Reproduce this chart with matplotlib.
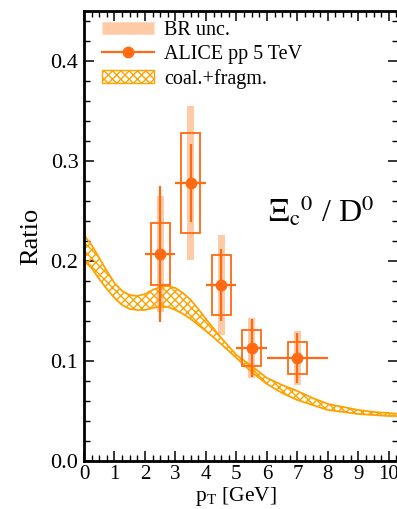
import matplotlib
matplotlib.use("Agg")
import matplotlib.pyplot as plt
from matplotlib.patches import Rectangle, Patch
from matplotlib.lines import Line2D
from matplotlib.ticker import MultipleLocator, FormatStrFormatter

plt.rcParams['font.family'] = ['Liberation Serif', 'DejaVu Serif']
plt.rcParams['mathtext.fontset'] = 'stix'
plt.rcParams['hatch.linewidth'] = 1.0

# ALICE pp 5.02 TeV Xi_c^0 / D^0 data
pt = [2.5, 3.5, 4.5, 5.5, 7.0]
pt_err = [0.5, 0.5, 0.5, 0.5, 1.0]
ratio = [0.207, 0.278, 0.176, 0.113, 0.103]
stat = [0.068, 0.039, 0.036, 0.029, 0.025]
syst = [0.031, 0.050, 0.030, 0.018, 0.016]
br_unc = [0.058, 0.077, 0.050, 0.030, 0.027]

# coalescence + fragmentation model band
model_pt = [0.0, 0.25, 0.5, 0.75, 1.0, 1.25, 1.5, 1.75, 2.0, 2.25, 2.5, 2.75,
            3.0, 3.25, 3.5, 3.75, 4.0, 4.5, 5.0, 5.5, 6.0, 6.5, 7.0, 7.5,
            8.0, 8.5, 9.0, 9.5, 10.0, 10.3]
model_hi = [0.226, 0.216, 0.203, 0.190, 0.178, 0.170, 0.166, 0.165, 0.167,
            0.171, 0.174, 0.175, 0.173, 0.168, 0.161, 0.152, 0.142, 0.123,
            0.106, 0.095, 0.083, 0.076, 0.070, 0.063, 0.057, 0.054, 0.051,
            0.049, 0.048, 0.047]
model_lo = [0.200, 0.193, 0.182, 0.172, 0.163, 0.156, 0.152, 0.151, 0.151,
            0.153, 0.154, 0.154, 0.151, 0.147, 0.142, 0.136, 0.130, 0.117,
            0.103, 0.089, 0.077, 0.068, 0.061, 0.056, 0.051, 0.049, 0.047,
            0.046, 0.045, 0.045]

c_data = '#ff6a13'
c_br = '#ffcba6'
c_model = '#ffa200'

fig = plt.figure(figsize=(3.97, 5.09), dpi=100)
ax = fig.add_axes([0.2116, 0.0943, 0.7909, 0.8841])

# BR uncertainty bars
ax.bar(pt, [2 * b for b in br_unc], bottom=[r - b for r, b in zip(ratio, br_unc)],
       width=0.24, color=c_br, edgecolor='none', zorder=1)

# model band
ax.fill_between(model_pt, model_lo, model_hi, facecolor='none', edgecolor=c_model,
                hatch='xxxx', linewidth=0, zorder=2)
ax.plot(model_pt, model_hi, color=c_model, lw=1.3, zorder=2)
ax.plot(model_pt, model_lo, color=c_model, lw=1.3, zorder=2)

# systematic boxes
for x, y, s in zip(pt, ratio, syst):
    ax.add_patch(Rectangle((x - 0.31, y - s), 0.62, 2 * s, facecolor='none',
                           edgecolor=c_data, lw=1.3, zorder=3))

# points with statistical errors
ax.errorbar(pt, ratio, xerr=pt_err, yerr=stat, fmt='o', color=c_data, ms=7.5,
            elinewidth=1.6, capsize=0, zorder=4)

ax.set_xlim(0, 10.3)
ax.set_ylim(0, 0.45)
ax.xaxis.set_major_locator(MultipleLocator(1))
ax.xaxis.set_minor_locator(MultipleLocator(0.25))
ax.yaxis.set_major_locator(MultipleLocator(0.1))
ax.yaxis.set_minor_locator(MultipleLocator(0.02))
ax.yaxis.set_major_formatter(FormatStrFormatter('%.1f'))
ax.tick_params(which='both', direction='in', top=True, right=True, labelsize=16)
ax.tick_params(axis='x', labelsize=15, pad=3)
ax.tick_params(which='major', length=7, width=1.1)
ax.tick_params(axis='y', pad=4)
ax.tick_params(which='minor', length=4, width=1.0)
for sp in ax.spines.values():
    sp.set_linewidth(2.0)

ax.set_ylabel('Ratio', fontsize=19, labelpad=6)
ax.set_xlabel(r'p$_{\mathregular{T}}$ [GeV]', fontsize=15.5, va='bottom')
ax.xaxis.set_label_coords(0.595, 0.002, transform=fig.transFigure)

ax.text(0.585, 0.555, r'$\Xi_{\mathrm{c}}{}^{0}$ / D$^{0}$', transform=ax.transAxes,
        fontsize=23, ha='left', va='center')

handles = [
    Line2D([], [], color=c_br, lw=9, solid_capstyle='butt'),
    Line2D([], [], color=c_data, lw=1.6, marker='o', ms=7.5),
    Patch(facecolor='white', edgecolor=c_model, hatch='xxxx', lw=1.0),
]
labels = ['BR unc.', 'ALICE pp 5 TeV', 'coal.+fragm.']
ax.legend(handles, labels, loc='upper left', bbox_to_anchor=(0.057, 0.978),
          frameon=False, fontsize=14.5, handlelength=2.6, handleheight=0.6,
          handletextpad=0.5, labelspacing=0.25, borderpad=0, borderaxespad=0)

fig.savefig('out.png', dpi=100)
